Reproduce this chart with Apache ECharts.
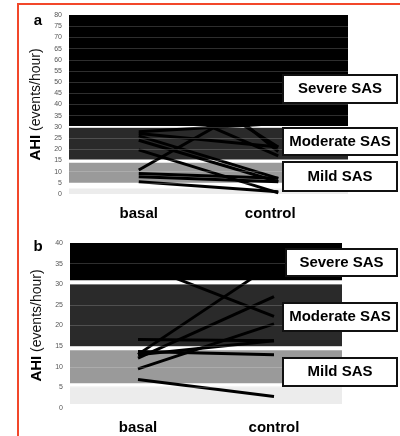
<!DOCTYPE html>
<html>
<head>
<meta charset="utf-8">
<script src="https://cdn.jsdelivr.net/npm/echarts@6/dist/echarts.min.js"></script>
<style>
  html, body { margin: 0; padding: 0; background: #fff; }
  #chart { width: 400px; height: 436px; }
</style>
</head>
<body>
<div id="chart"></div>
<script>
// categories
var groups = ['basal', 'control'];

// panel a: one pair per patient (basal, control)
var basalA   = [76, 72, 66, 60, 70, 55, 48, 44, 38, 27.8, 26, 24, 19.7, 10.7, 9.2, 7.7, 5.5, 27];
var controlA = [62, 48, 35, 21, 19, 40, 57, 17, 52, 31.5, 7, 5.5, 0.5, 46, 7, 5.5, 1, 21];

// panel b
var basalB   = [35, 13, 12.1, 9.5, 16.6, 13.7, 12.9, 6.9];
var controlB = [22.2, 35, 27, 20.4, 16.3, 12.9, 16.3, 2.8];

// severity bands [from, to]: severe, moderate, mild, normal
var bandsA = [[30.4, 80], [15.4, 29.6], [5, 14], [0, 2.5]];
var bandsB = [[31, 40], [15, 30], [6, 14], [1, 5.2]];
var bandColors = ['#000000', '#2a2a2a', '#9a9a9a', '#ececec'];

// y ticks
var ticksA = [0, 5, 10, 15, 20, 25, 30, 35, 40, 45, 50, 55, 60, 65, 70, 75, 80];
var ticksB = [0, 5, 10, 15, 20, 25, 30, 35, 40];

var labels = ['Severe SAS', 'Moderate SAS', 'Mild SAS'];

var font = 'Liberation Sans, Arial, sans-serif';

function bandSeries(gi, bands) {
  return {
    type: 'line', xAxisIndex: gi, yAxisIndex: gi, data: [], z: 1, silent: true,
    markArea: {
      silent: true,
      data: bands.map(function (b, i) {
        return [{ yAxis: b[0], itemStyle: { color: bandColors[i] } }, { yAxis: b[1] }];
      })
    }
  };
}

function gridSeries(gi, ticks) {
  return {
    type: 'line', xAxisIndex: gi, yAxisIndex: gi, data: [], z: 2, silent: true,
    markLine: {
      silent: true, symbol: 'none', label: { show: false },
      lineStyle: { color: 'rgba(255,255,255,0.18)', width: 1, type: 'solid' },
      data: ticks.slice(1, ticks.length - 1).map(function (t) { return { yAxis: t }; })
    }
  };
}

function pairSeries(gi, basal, control) {
  return basal.map(function (b, i) {
    return {
      type: 'line', xAxisIndex: gi, yAxisIndex: gi, z: 3, silent: true,
      data: [b, control[i]], showSymbol: false, symbol: 'none',
      lineStyle: { color: '#000', width: 3 }
    };
  });
}

function yAxis(gi, max) {
  return {
    type: 'value', gridIndex: gi, min: 0, max: max, interval: 5,
    axisLine: { show: false }, axisTick: { show: false }, splitLine: { show: false },
    axisLabel: { fontSize: 7, color: '#555', margin: 7, fontFamily: font },
    name: '{b|AHI} (events/hour)', nameLocation: 'middle', nameRotate: 90, nameGap: 25,
    nameTextStyle: {
      fontSize: 14, color: '#111', fontFamily: font,
      rich: { b: { fontSize: 15, fontWeight: 'bold', color: '#000', fontFamily: font } }
    }
  };
}

function xAxis(gi, shiftControl) {
  return {
    type: 'category', gridIndex: gi, data: groups, boundaryGap: true,
    axisLine: { show: false }, axisTick: { show: false },
    axisLabel: {
      margin: 12, fontSize: 15, fontWeight: 'bold', color: '#000', fontFamily: font,
      formatter: function (v) { return v === 'control' ? '{c|' + v + '}' : '{n|' + v + '}'; },
      rich: {
        n: { fontSize: 15, fontWeight: 'bold', color: '#000', fontFamily: font },
        c: { fontSize: 15, fontWeight: 'bold', color: '#000', fontFamily: font, padding: [0, shiftControl, 0, 0] }
      }
    }
  };
}

function box(x, y, w, h, text) {
  return [
    { type: 'rect', shape: { x: x, y: y, width: w, height: h }, z: 10,
      style: { fill: '#fff', stroke: '#111', lineWidth: 2 } },
    { type: 'text', x: x + w / 2, y: y + h / 2, z: 11,
      style: { text: text, fontSize: 15, fontWeight: 'bold', fill: '#000', fontFamily: font,
               align: 'center', verticalAlign: 'middle' } }
  ];
}

var graphics = [
  { type: 'rect', shape: { x: 18, y: 4, width: 500, height: 500 }, z: 20, silent: true,
    style: { fill: 'none', stroke: '#f2472a', lineWidth: 2 } },
  { type: 'text', x: 38, y: 21, style: { text: 'a', fontSize: 15, fontWeight: 'bold', fill: '#000', fontFamily: font, align: 'center', verticalAlign: 'middle' } },
  { type: 'text', x: 38, y: 247, style: { text: 'b', fontSize: 15, fontWeight: 'bold', fill: '#000', fontFamily: font, align: 'center', verticalAlign: 'middle' } }
]
  .concat(box(283, 75, 114, 28, labels[0]))
  .concat(box(283, 128, 114, 27, labels[1]))
  .concat(box(283, 162, 114, 29, labels[2]))
  .concat(box(286, 249, 111, 27, labels[0]))
  .concat(box(283, 303, 114, 28, labels[1]))
  .concat(box(283, 358, 114, 28, labels[2]));

var option = {
  animation: false,
  backgroundColor: '#fff',
  grid: [
    { left: 69, right: 52, top: 15, bottom: 242 },
    { left: 70, right: 58, top: 243, bottom: 28 }
  ],
  xAxis: [xAxis(0, 16), xAxis(1, 0)],
  yAxis: [yAxis(0, 80), yAxis(1, 40)],
  series: [bandSeries(0, bandsA), gridSeries(0, ticksA), bandSeries(1, bandsB), gridSeries(1, ticksB)]
    .concat(pairSeries(0, basalA, controlA))
    .concat(pairSeries(1, basalB, controlB)),
  graphic: graphics
};

var chart = echarts.init(document.getElementById('chart'));
chart.setOption(option);
</script>
</body>
</html>
